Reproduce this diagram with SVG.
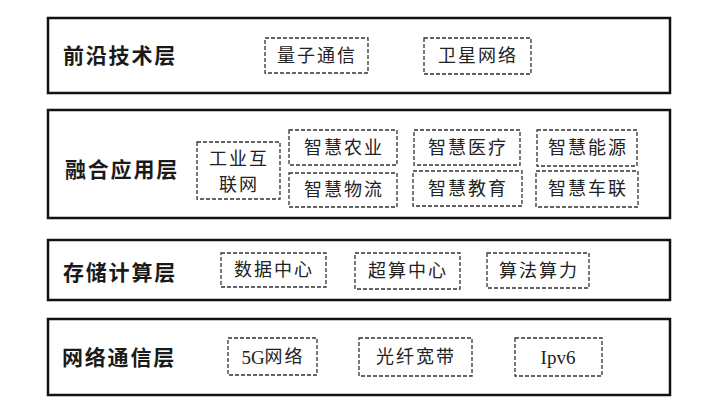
<svg xmlns="http://www.w3.org/2000/svg" width="708" height="415" viewBox="0 0 708 415">
<style>
.layer{fill:#fff;stroke:#111;stroke-width:2.5}
.item{fill:#fff;stroke:#333;stroke-width:1.3;stroke-dasharray:4 2}
.title{font-family:"Noto Sans CJK SC",sans-serif;font-weight:bold;font-size:21px;letter-spacing:1.8px;fill:#1a1a1a;dominant-baseline:central}
.t{font-family:"Liberation Serif","Noto Sans CJK SC",serif;font-size:18px;letter-spacing:2px;fill:#222;text-anchor:middle;dominant-baseline:central}
.lat{letter-spacing:0;font-size:19px}
</style>
<rect width="708" height="415" fill="#fff"/>
<g id="layer1">
<rect class="layer" x="48" y="18" width="622" height="75"/>
<text class="title" x="63" y="54">前沿技术层</text>
</g>
<g id="n-liangzi"><rect class="item" x="265" y="38" width="103" height="35"/><text class="t" x="317" y="55.5">量子通信</text></g>
<g id="n-weixing"><rect class="item" x="424" y="38" width="107" height="36"/><text class="t" x="478" y="56">卫星网络</text></g>

<g id="layer2">
<rect class="layer" x="48" y="110" width="622" height="108"/>
<text class="title" x="65" y="168">融合应用层</text>
</g>
<g id="n-gongye"><rect class="item" x="197" y="142" width="83" height="57"/><text class="t" x="239" y="159">工业互</text><text class="t" x="239" y="185">联网</text></g>
<g id="n-nongye"><rect class="item" x="289" y="130" width="108" height="35"/><text class="t" x="344" y="147.5">智慧农业</text></g>
<g id="n-wuliu"><rect class="item" x="289" y="173" width="108" height="34"/><text class="t" x="344" y="190">智慧物流</text></g>
<g id="n-yiliao"><rect class="item" x="414" y="130" width="106" height="35"/><text class="t" x="468" y="147.5">智慧医疗</text></g>
<g id="n-jiaoyu"><rect class="item" x="413" y="171" width="109" height="35"/><text class="t" x="468" y="188.5">智慧教育</text></g>
<g id="n-nengyuan"><rect class="item" x="537" y="130" width="100" height="36"/><text class="t" x="588" y="148">智慧能源</text></g>
<g id="n-chelian"><rect class="item" x="536" y="171" width="102" height="36"/><text class="t" x="588" y="189">智慧车联</text></g>

<g id="layer3">
<rect class="layer" x="48" y="240" width="622" height="60"/>
<text class="title" x="63" y="271">存储计算层</text>
</g>
<g id="n-shuju"><rect class="item" x="221" y="253" width="105" height="34"/><text class="t" x="274" y="270">数据中心</text></g>
<g id="n-chaosuan"><rect class="item" x="355" y="253" width="105" height="36"/><text class="t" x="408" y="271">超算中心</text></g>
<g id="n-suanfa"><rect class="item" x="487" y="253" width="102" height="35"/><text class="t" x="539" y="270.5">算法算力</text></g>

<g id="layer4">
<rect class="layer" x="48" y="319" width="622" height="76"/>
<text class="title" x="62" y="356">网络通信层</text>
</g>
<g id="n-5g"><rect class="item" x="228" y="338" width="89" height="37"/><text class="t" x="273" y="356.5"><tspan class="lat">5G</tspan>网络</text></g>
<g id="n-ipv6"><rect class="item" x="515" y="338" width="87" height="38"/><text class="t lat" x="558" y="357">Ipv6</text></g>
<g id="n-guangxian"><rect class="item" x="359" y="338" width="113" height="38"/><text class="t" x="416" y="357">光纤宽带</text></g>
<g id="connectors"></g>
</svg>
